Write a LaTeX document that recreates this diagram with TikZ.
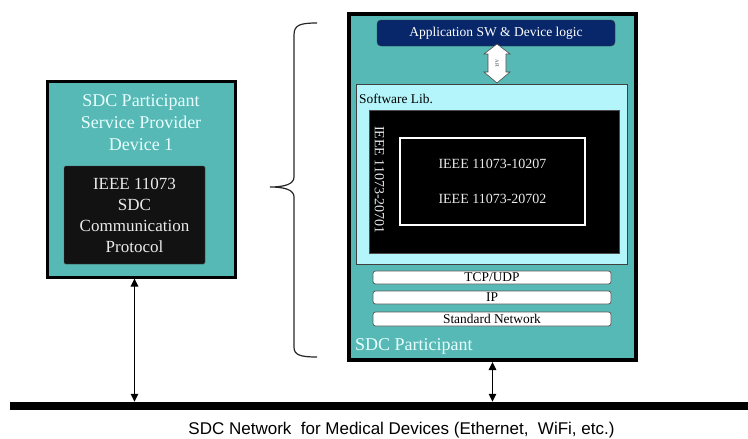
\documentclass[tikz,border=0pt]{standalone}
\usepackage{fontspec}
\setmainfont{Liberation Serif}
\newfontfamily\capfont{Liberation Sans}
\usetikzlibrary{arrows.meta}
\definecolor{teal1}{HTML}{56B9B5}
\definecolor{libcyan}{HTML}{B3F5FA}
\definecolor{navy1}{HTML}{08276A}
\definecolor{paletext}{HTML}{E8FFFF}
\tikzset{
  device/.style={draw=black, fill=teal1, line width=3pt, inner sep=0pt},
  blackbox/.style={draw=black!70, fill=black, inner sep=0pt},
  layer/.style={draw=black!65, fill=white, rounded corners=2.5pt, line width=0.8pt,
    minimum width=238pt, minimum height=13pt, inner sep=0pt,
    font=\fontsize{13.4}{14}\selectfont},
  link/.style={line width=1.2pt, {Triangle[length=8pt,width=7.5pt]}-{Triangle[length=8pt,width=7.5pt]}},
}
\begin{document}
\begin{tikzpicture}[x=1pt,y=-1pt]
\useasboundingbox (0,0) rectangle (748,439);

% --- left device ---
\node[device, minimum width=188pt, minimum height=196pt] (lbox) at (141,179) {};
\node[text=paletext, align=center, font=\fontsize{18}{22}\selectfont] (ltitle) at (141,123)
  {SDC Participant\\Service Provider\\Device 1};
\node[blackbox, fill=black!93, rounded corners=1.5pt, minimum width=141pt, minimum height=98pt,
  text=white!92!black, align=center, font=\fontsize{17}{21}\selectfont] (proto) at (134.5,215)
  {IEEE 11073\\SDC\\Communication\\Protocol};

% --- right device ---
\node[device, line width=4pt, minimum width=287pt, minimum height=346pt] (rbox) at (492.5,187) {};
\node[draw=black!80, fill=navy1, rounded corners=4pt, minimum width=238pt, minimum height=26pt,
  text=white, font=\fontsize{13.5}{15}\selectfont] (app) at (496,33) {Application SW \& Device logic};

\node[draw=black!75, fill=libcyan, line width=0.8pt, minimum width=271pt, minimum height=180pt,
  inner sep=0pt] (lib) at (491.5,174) {};
\node[anchor=base west, font=\fontsize{13.4}{15}\selectfont, inner sep=0pt] (libtitle) at (359,103) {Software Lib.};
\node[blackbox, minimum width=250pt, minimum height=143pt] (stack) at (494,181.5) {};
\node[draw=white, line width=2pt, fill=black, minimum width=185pt, minimum height=87pt,
  text=white!92!black, align=center, font=\fontsize{14}{35}\selectfont] (core) at (492.5,181.5)
  {IEEE 11073-10207\\IEEE 11073-20702};
\node[rotate=-90, text=white!92!black, font=\fontsize{14}{16}\selectfont, inner sep=0pt] (dpws)
  at (379.5,180) {IEEE 11073-20701};

% API double arrow between application and library
\draw[draw=black!70, fill=white, line width=0.6pt]
  (497,44) -- (510,54) -- (506,54) -- (506,72) -- (510,72) -- (497,83)
  -- (484,72) -- (488,72) -- (488,54) -- (484,54) -- cycle;
\node[rotate=-90, font=\fontsize{5}{6}\selectfont, text=black!70, inner sep=0pt] (api) at (497,63.5) {API};

\node[layer] (tcp) at (492,277.5) {TCP/UDP};
\node[layer] (ip) at (492,297.5) {IP};
\node[layer, minimum height=14pt] (net) at (492,319) {Standard Network};

\node[anchor=base west, text=paletext, font=\fontsize{18}{20}\selectfont, inner sep=0pt] (rtitle)
  at (355,350) {SDC Participant};

% --- brace grouping the detailed view ---
\draw[line width=1.2pt, black!85] (317,23) .. controls (300,23) and (294,25) .. (294,35)
  -- (294,177) .. controls (294,184) and (285,187) .. (270,187)
  .. controls (285,187) and (294,190) .. (294,197) -- (294,347)
  .. controls (294,355) and (300,357) .. (317,357);

% --- network ---
\node[fill=black, minimum width=738pt, minimum height=8pt, inner sep=0pt] (bar) at (379,406) {};
\node[anchor=base, font=\capfont\fontsize{17}{20}\selectfont, inner sep=0pt] (caption) at (401.5,434.5)
  {SDC Network\ \ for Medical Devices (Ethernet,\ \ WiFi, etc.)};

\draw[link] (proto.south |- lbox.south) -- (proto.south |- bar.north);
\draw[link] (rbox.south) -- (rbox.south |- bar.north);
\end{tikzpicture}
\end{document}
